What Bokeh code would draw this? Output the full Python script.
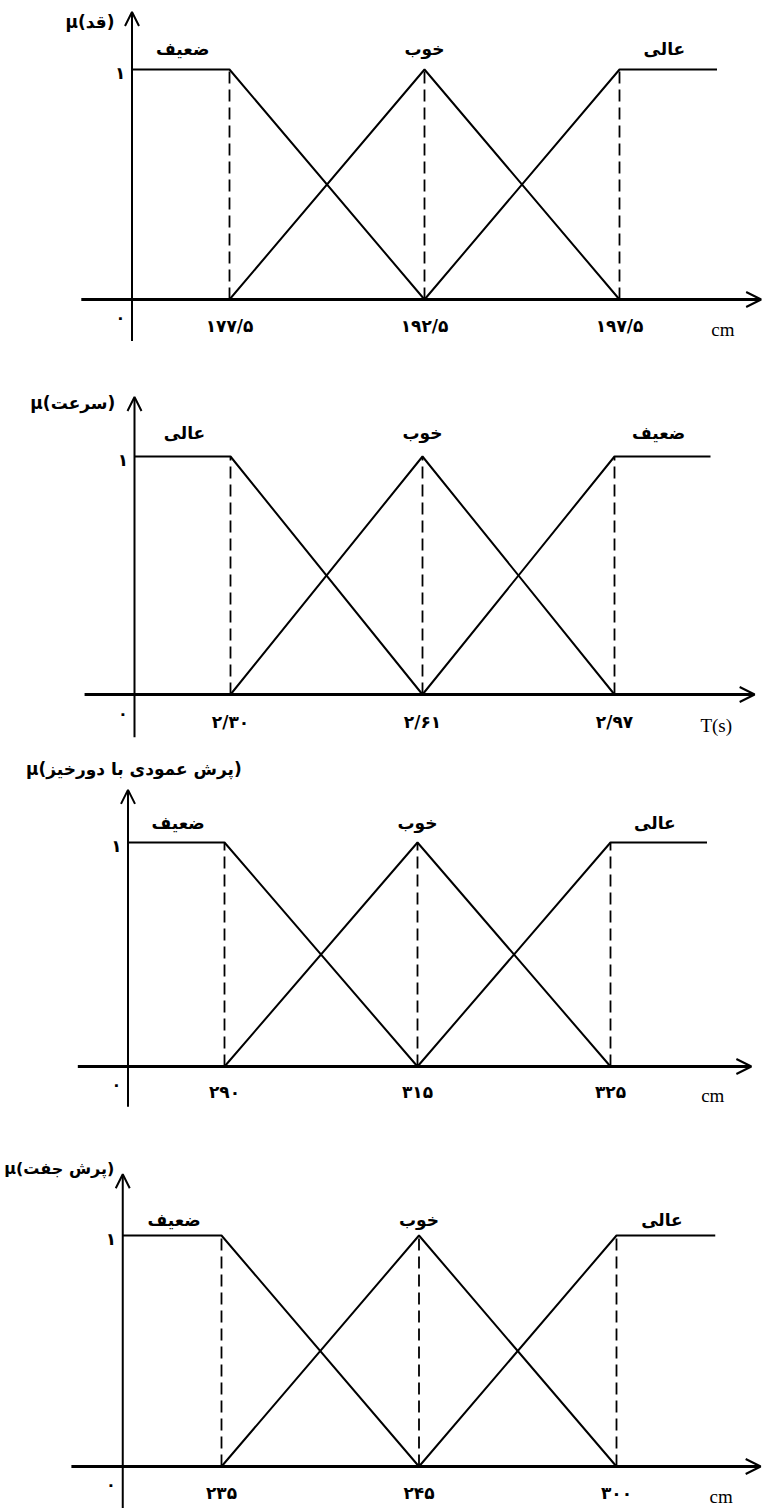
from bokeh.plotting import figure
from bokeh.layouts import column
from bokeh.models import Range1d, Arrow, OpenHead
from bokeh.core.properties import value
from bokeh.embed import file_html
from bokeh.resources import INLINE

# ---------------- data ----------------
titles = ["μ(قد)", "μ(سرعت)", "μ(پرش عمودی با دورخیز)", "μ(پرش جفت)"]
cats_1 = ["ضعیف", "خوب", "عالی"]
cats_2 = ["عالی", "خوب", "ضعیف"]
cats_3 = ["ضعیف", "خوب", "عالی"]
cats_4 = ["ضعیف", "خوب", "عالی"]
ticks_1 = ["۱۷۷/۵", "۱۹۲/۵", "۱۹۷/۵"]
ticks_2 = ["۲/۳۰", "۲/۶۱", "۲/۹۷"]
ticks_3 = ["۲۹۰", "۳۱۵", "۳۲۵"]
ticks_4 = ["۲۳۵", "۲۴۵", "۳۰۰"]
units = ["cm", "T(s)", "cm", "cm"]
zero_label = "۰"
one_label = "۱"

# breakpoints (ordinal positions along each axis) and membership values
breakpoints = [1, 2, 3]
mu_low = [1, 1, 0]     # over [universe start, bp1, bp2]
mu_mid = [0, 1, 0]     # over [bp1, bp2, bp3]
mu_high = [0, 1, 1]    # over [bp2, bp3, universe end]
universe = [0.5, 3.5]  # start (at the μ axis) and end of the plotted universe

all_cats = [cats_1, cats_2, cats_3, cats_4]
all_ticks = [ticks_1, ticks_2, ticks_3, ticks_4]

# ---------------- layout (pixel anchors of each panel) ----------------
W = 763
ORIGIN_X = 0
# top, height, px of y=0, px of y=1, px of bp1, px of bp3  (page coords)
anchors = [
    (0, 365, 299, 69, 229, 619),
    (365, 390, 694, 456, 230, 614),
    (755, 390, 1066, 842, 224, 610),
    (1145, 363, 1466, 1235, 221, 616),
]
# x, y, align, font size
title_pos = [(0.41, 1.205, "right", "17px"), (0.40, 1.225, "right", "17px"),
             (0.53, 1.33, "center", "17px"), (-0.10, 1.29, "left", "16px")]
arrow_top = [1.25, 1.25, 1.235, 1.265]
cat_y = [1.09, 1.097, 1.089, 1.068]

FONT = value("DejaVu Sans")
SERIF = value("Liberation Serif")

figs = []
for i in range(4):
    top, h, y0px, y1px, b1px, b3px = anchors[i]
    sy = y0px - y1px
    ytop = (y0px - top) / sy
    ybot = -(top + h - y0px) / sy
    sx = (b3px - b1px) / 2.0
    p0 = b1px - sx
    xl = (ORIGIN_X - p0) / sx
    xr = (ORIGIN_X + W - p0) / sx

    p = figure(width=W, height=h, output_backend="svg", toolbar_location=None,
               x_axis_location=None, y_axis_location=None, min_border=0,
               x_range=Range1d(xl, xr), y_range=Range1d(ybot, ytop))
    p.grid.visible = False
    p.outline_line_color = None
    p.background_fill_color = "white"
    p.border_fill_color = "white"

    # dashed guides
    p.segment(x0=breakpoints, y0=[0] * 3, x1=breakpoints,
              y1=[max(mu_mid)] * 3, line_color="black", line_width=1.8,
              line_dash="12 6")

    # membership functions
    p.line([universe[0], breakpoints[0], breakpoints[1]], mu_low,
           line_color="black", line_width=2)
    p.line(breakpoints, mu_mid, line_color="black", line_width=2)
    p.line([breakpoints[1], breakpoints[2], universe[1]], mu_high,
           line_color="black", line_width=2)

    # axes with arrows
    x_tip = min(3.73, xr - 0.012)
    p.add_layout(Arrow(end=OpenHead(size=15, line_width=2, line_color="black"),
                       x_start=0.24, y_start=0, x_end=x_tip, y_end=0,
                       line_width=3, line_color="black"))
    y_bottom = max(-0.18, ybot)
    p.add_layout(Arrow(end=OpenHead(size=14, line_width=2, line_color="black"),
                       x_start=universe[0], y_start=y_bottom,
                       x_end=universe[0], y_end=arrow_top[i],
                       line_width=2, line_color="black"))

    # tick labels
    p.text(x=breakpoints, y=[-0.115] * 3, text=all_ticks[i],
           text_align="center", text_baseline="middle", text_font=FONT,
           text_font_style="bold", text_font_size="17px", text_color="black")
    # 0 and 1
    p.text(x=[0.44], y=[-0.08], text=[zero_label], text_align="center",
           text_baseline="middle", text_font=FONT, text_font_style="bold",
           text_font_size="16px", text_color="black")
    p.text(x=[0.44], y=[0.985], text=[one_label], text_align="center",
           text_baseline="middle", text_font=FONT, text_font_style="bold",
           text_font_size="17px", text_color="black")
    # unit
    p.text(x=[3.53], y=[-0.13], text=[units[i]], text_align="center",
           text_baseline="middle", text_font=SERIF, text_font_size="19px",
           text_color="black")
    # category labels
    p.text(x=[0.76, 2.0, 3.23], y=[cat_y[i]] * 3, text=all_cats[i],
           text_align="center", text_baseline="middle", text_font=FONT,
           text_font_style="bold", text_font_size="17px", text_color="black")
    # title
    tx, ty, ta, tfs = title_pos[i]
    p.text(x=[tx], y=[ty], text=[titles[i]], text_align=ta,
           text_baseline="middle", text_font=FONT, text_font_style="bold",
           text_font_size=tfs, text_color="black")
    figs.append(p)

layout = column(*figs, spacing=0)
open("out.html", "w").write(file_html(layout, INLINE))
